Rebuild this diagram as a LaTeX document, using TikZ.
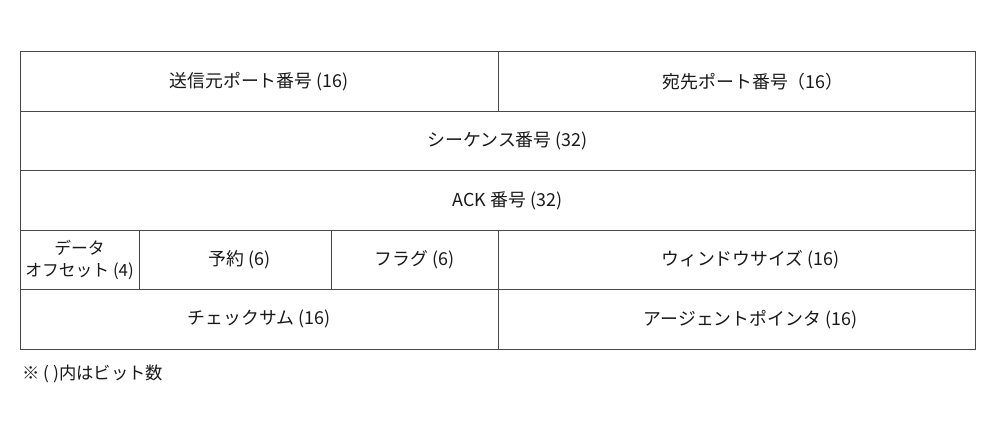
\documentclass[tikz,border=0pt]{standalone}
\usepackage{fontspec}
\setmainfont{Noto Sans CJK JP}
\usepackage{xcolor}
\usepackage{tikz}
\definecolor{framegray}{RGB}{72, 72, 72}
\definecolor{labelblack}{RGB}{25, 25, 25}

\tikzset{
    field/.style={draw=framegray, line width=0.75pt, inner sep=0pt, outer sep=0pt,
        anchor=north west, minimum height=44.55pt, align=center,
        font=\fontsize{13.4}{15}\selectfont, text=labelblack},
    nudged/.style={execute at begin node={\hspace*{#1}}},
}

\begin{document}
\begin{tikzpicture}[x=0.75pt, y=-0.75pt]
    \useasboundingbox (0,0) rectangle (996,435);
    % row 1
    \node[field, minimum width=358.5pt] (srcport) at (20,52) {送信元ポート番号 (16)};
    \node[field, nudged=25pt, minimum width=357.75pt] (dstport) at (498,52) {宛先ポート番号（16）};
    % row 2
    \node[field, nudged=15pt, minimum width=716.25pt] (seqno) at (20,111.4) {シーケンス番号 (32)};
    % row 3
    \node[field, nudged=15pt, minimum width=716.25pt] (ackno) at (20,170.8) {ACK 番号 (32)};
    % row 4
    \node[field, minimum width=89.25pt, font=\fontsize{12.6}{16.5}\selectfont] (offset) at (20,230.2) {データ\\オフセット (4)};
    \node[field, nudged=7pt, minimum width=144pt] (reserved) at (139,230.2) {予約 (6)};
    \node[field, minimum width=125.25pt] (flags) at (331,230.2) {フラグ (6)};
    \node[field, nudged=21pt, minimum width=357.75pt] (window) at (498,230.2) {ウィンドウサイズ (16)};
    % row 5
    \node[field, minimum width=358.5pt] (checksum) at (20,289.6) {チェックサム (16)};
    \node[field, nudged=21pt, minimum width=357.75pt] (urgent) at (498,289.6) {アージェントポインタ (16)};
    % note
    \node[anchor=west, inner sep=0pt, font=\fontsize{13}{15}\selectfont, text=labelblack] (note) at (22,374) {※ ( )内はビット数};
\end{tikzpicture}
\end{document}
